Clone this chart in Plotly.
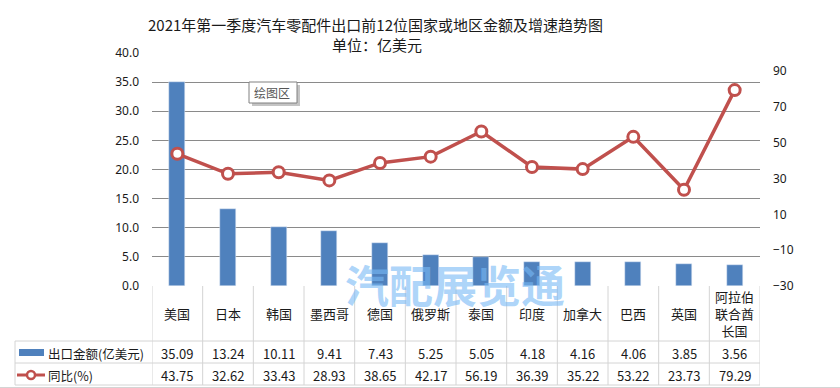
import plotly.graph_objects as go

categories = ["美国", "日本", "韩国", "墨西哥", "德国", "俄罗斯", "泰国", "印度", "加拿大", "巴西", "英国", "阿拉伯<br>联合酋<br>长国"]
export_values = [35.09, 13.24, 10.11, 9.41, 7.43, 5.25, 5.05, 4.18, 4.16, 4.06, 3.85, 3.56]
yoy_values = [43.75, 32.62, 33.43, 28.93, 38.65, 42.17, 56.19, 36.39, 35.22, 53.22, 23.73, 79.29]
left_ticks = [0, 5, 10, 15, 20, 25, 30, 35, 40]
right_ticks = [-30, -10, 10, 30, 50, 70, 90]
series_names = ["出口金额(亿美元)", "同比(%)"]

W, H = 840, 388
BLUE = "#4F81BD"
RED = "#C0504D"
GRID = "#8a8a8a"
BORDER = "#d4d4d4"
FONT = "Noto Sans CJK SC"

def px(x):
    return x / W

def py(y):
    return 1 - y / H

n = len(categories)
xs = list(range(n))

fig = go.Figure()
fig.add_trace(go.Bar(x=xs, y=export_values, marker_color=BLUE, width=0.32,
                     name=series_names[0], yaxis="y"))
fig.add_trace(go.Scatter(x=xs, y=yoy_values, mode="lines+markers", name=series_names[1],
                         line=dict(color=RED, width=3.5),
                         marker=dict(symbol="circle", size=11, color="white",
                                     line=dict(color=RED, width=3)),
                         yaxis="y2"))

shapes = []
annotations = []

def note(text, x, y, font, xref="paper", xanchor="center", align="center"):
    annotations.append(dict(text=text, xref=xref, yref="paper", x=x, y=y, showarrow=False,
                            xanchor=xanchor, yanchor="middle", align=align, font=font))

# table borders
tab_top, row1, row2, tab_bot = 286, 341, 363, 385
for i in range(n + 1):
    shapes.append(dict(type="line", xref="x", yref="paper", x0=i - 0.5, x1=i - 0.5,
                       y0=py(tab_top), y1=py(tab_bot), line=dict(color=BORDER, width=1), layer="below"))
for yy in (row1, row2, tab_bot):
    shapes.append(dict(type="line", xref="paper", yref="paper", x0=px(15), x1=px(760),
                       y0=py(yy), y1=py(yy), line=dict(color=BORDER, width=1)))
shapes.append(dict(type="line", xref="paper", yref="paper", x0=px(15), x1=px(15),
                   y0=py(row1), y1=py(tab_bot), line=dict(color=BORDER, width=1)))
shapes.append(dict(type="line", xref="paper", yref="paper", x0=0, x1=1,
                   y0=py(387.5), y1=py(387.5), line=dict(color=BORDER, width=1)))

# legend keys in table
shapes.append(dict(type="rect", xref="paper", yref="paper", x0=px(19), x1=px(44),
                   y0=py(356), y1=py(349), fillcolor=BLUE, line=dict(width=0)))
shapes.append(dict(type="line", xref="paper", yref="paper", x0=px(17), x1=px(45),
                   y0=py(375), y1=py(375), line=dict(color=RED, width=3)))
shapes.append(dict(type="circle", xref="paper", yref="paper", x0=px(27), x1=px(35),
                   y0=py(379), y1=py(371), fillcolor="white", line=dict(color=RED, width=2.5)))

# tooltip box "绘图区"
shapes.append(dict(type="rect", xref="paper", yref="paper", x0=px(252), x1=px(300),
                   y0=py(106), y1=py(85), fillcolor="#c4c4c4", line=dict(width=0)))
shapes.append(dict(type="rect", xref="paper", yref="paper", x0=px(249), x1=px(297),
                   y0=py(103), y1=py(82), fillcolor="white", line=dict(color="#808080", width=1)))
note("绘图区", px(272), py(92.5), dict(family=FONT, size=12, color="#555555"))

cell_font = dict(family=FONT, size=13, color="#1a1a1a")
for i in range(n):
    note(categories[i], i, py(313), cell_font, xref="x")
    note(f"{export_values[i]:.2f}", i, py(353), cell_font, xref="x")
    note(f"{yoy_values[i]:.2f}", i, py(375), cell_font, xref="x")

leg_font = dict(family=FONT, size=12.5, color="#1a1a1a")
note(series_names[0], px(46), py(353), leg_font, xanchor="left")
note(series_names[1], px(46), py(375), leg_font, xanchor="left")

# titles
title_font = dict(family=FONT, size=15, color="#1a1a1a")
note("2021年第一季度汽车零配件出口前12位国家或地区金额及增速趋势图", px(375), py(24), title_font)
note("单位：亿美元", px(377), py(44), title_font)

# watermark
note("<b>汽配展览通</b>", px(455), py(284), dict(family=FONT, size=44, color="rgba(120,185,245,0.6)"))

fig.update_layout(
    width=W, height=H,
    margin=dict(l=0, r=0, t=0, b=0, autoexpand=False),
    paper_bgcolor="white", plot_bgcolor="white",
    showlegend=False, bargap=0, hovermode=False,
    xaxis=dict(domain=[px(152), px(760)], range=[-0.5, n - 0.5], showticklabels=False,
               showgrid=False, zeroline=False, showline=False, ticks="", automargin=False),
    yaxis=dict(domain=[py(286), py(53)], range=[0, 40], tickvals=left_ticks, tickformat=".1f",
               showgrid=True, gridcolor=GRID, gridwidth=1, zeroline=False, showline=False,
               ticks="", ticklabelstandoff=12, automargin=False,
               tickfont=dict(family="Noto Sans", size=12, color="#1a1a1a")),
    yaxis2=dict(overlaying="y", side="right", range=[-30, 100], tickvals=right_ticks,
                showgrid=False, zeroline=False, showline=False, ticks="", ticklabelstandoff=12,
                automargin=False,
                tickfont=dict(family="Noto Sans", size=12, color="#1a1a1a")),
    shapes=shapes, annotations=annotations,
)

fig.write_html("out.html", config={"displayModeBar": False},
               post_script="document.body.style.margin='0';document.body.style.padding='0';")
